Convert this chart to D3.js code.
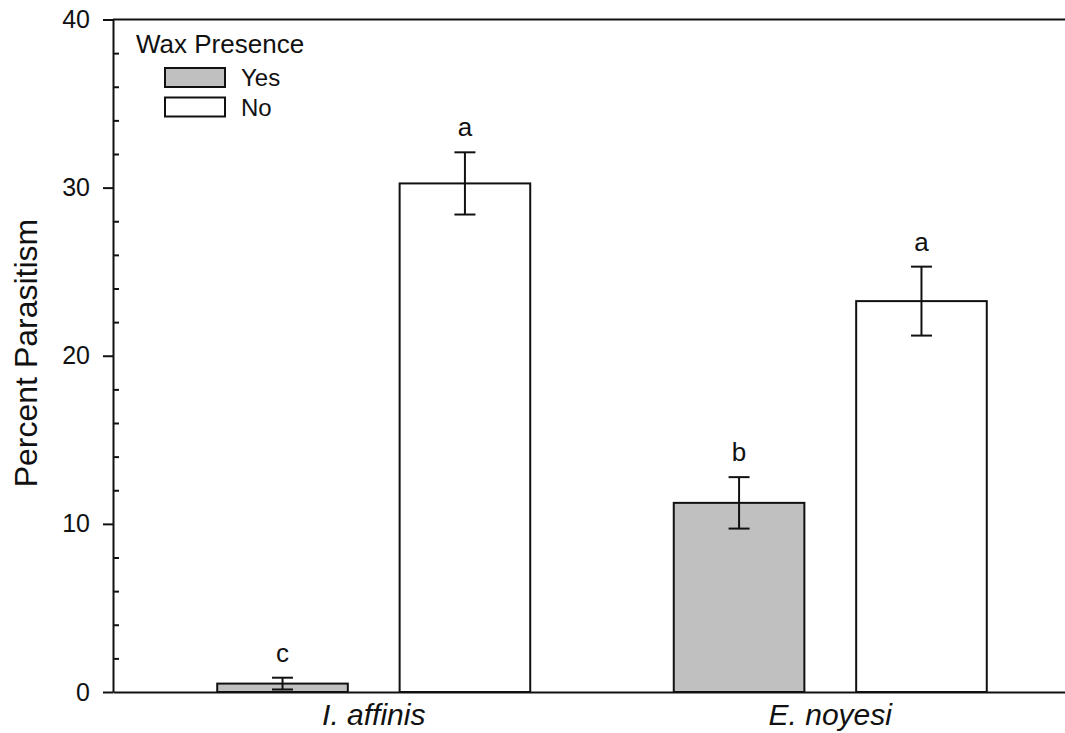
<!DOCTYPE html>
<html>
<head>
<meta charset="utf-8">
<script src="https://cdn.jsdelivr.net/npm/d3@7"></script>
<style>
  html, body { margin: 0; padding: 0; background: #fff; }
  svg { display: block; font-family: Arial, "Liberation Sans", sans-serif; }
</style>
</head>
<body>
<svg id="chart" width="1065" height="733"></svg>
<script>
// ---- data ----
const groups = ["I. affinis", "E. noyesi"];
const waxLevels = ["Yes", "No"];
const yesMeans = [0.5, 11.25];
const yesErrors = [0.35, 1.53];
const yesLetters = ["c", "b"];
const noMeans = [30.25, 23.25];
const noErrors = [1.85, 2.05];
const noLetters = ["a", "a"];
const majorTicks = [0, 10, 20, 30, 40];
const minorTicks = [2, 4, 6, 8, 12, 14, 16, 18, 22, 24, 26, 28, 32, 34, 36, 38];
const legendTitle = "Wax Presence";
const yTitle = "Percent Parasitism";

const fills = { Yes: "#c0c0c0", No: "#ffffff" };

const rows = [];
groups.forEach((g, i) => {
  rows.push({ group: g, wax: "Yes", mean: yesMeans[i], err: yesErrors[i], letter: yesLetters[i] });
  rows.push({ group: g, wax: "No", mean: noMeans[i], err: noErrors[i], letter: noLetters[i] });
});

// ---- layout ----
const plotLeft = 113, plotRight = 1090, plotTop = 19.5, plotBottom = 692;
const svg = d3.select("#chart");

const x = d3.scalePoint().domain(groups).range([plotLeft, plotRight]).padding(0.57);
const xSub = d3.scaleBand().domain(waxLevels).range([-156, 157]).paddingInner(0.284).paddingOuter(0);
const y = d3.scaleLinear().domain([0, 40]).range([plotBottom, plotTop]);

const ink = "#111";

// bars
const bars = svg.append("g");
bars.selectAll("rect").data(rows).join("rect")
  .attr("x", d => x(d.group) + xSub(d.wax))
  .attr("width", xSub.bandwidth())
  .attr("y", d => y(d.mean))
  .attr("height", d => y(0) - y(d.mean))
  .attr("fill", d => fills[d.wax])
  .attr("stroke", ink)
  .attr("stroke-width", 2);

// error bars
const eb = svg.append("g").attr("stroke", ink).attr("stroke-width", 2);
rows.forEach(d => {
  const cx = x(d.group) + xSub(d.wax) + xSub.bandwidth() / 2;
  const lo = Math.max(0, d.mean - d.err), hi = d.mean + d.err;
  eb.append("line").attr("x1", cx).attr("x2", cx).attr("y1", y(lo)).attr("y2", y(hi));
  eb.append("line").attr("x1", cx - 10.5).attr("x2", cx + 10.5).attr("y1", y(hi)).attr("y2", y(hi));
  eb.append("line").attr("x1", cx - 10.5).attr("x2", cx + 10.5).attr("y1", y(lo)).attr("y2", y(lo));
});

// significance letters
svg.append("g").selectAll("text").data(rows).join("text")
  .attr("x", d => x(d.group) + xSub(d.wax) + xSub.bandwidth() / 2)
  .attr("y", d => y(d.mean + d.err) - 16)
  .attr("text-anchor", "middle")
  .attr("font-size", 26)
  .attr("fill", ink)
  .text(d => d.letter);

// y axis (major ticks outward)
const yAxis = d3.axisLeft(y).tickValues(majorTicks).tickSize(10).tickPadding(13).tickSizeOuter(0);
const gy = svg.append("g").attr("transform", `translate(${plotLeft},0)`).call(yAxis);
gy.select(".domain").attr("stroke", ink).attr("stroke-width", 2);
gy.selectAll(".tick line").attr("stroke", ink).attr("stroke-width", 2);
gy.selectAll(".tick text").attr("font-size", 25).attr("fill", ink)
  .attr("font-family", "Arial, 'Liberation Sans', sans-serif");

// minor ticks (inward)
const yMinor = d3.axisRight(y).tickValues(minorTicks).tickSize(6).tickFormat("");
const gm = svg.append("g").attr("transform", `translate(${plotLeft},0)`).call(yMinor);
gm.select(".domain").remove();
gm.selectAll(".tick line").attr("stroke", ink).attr("stroke-width", 2);

// top and bottom frame lines
svg.append("line").attr("x1", plotLeft).attr("x2", plotRight).attr("y1", y(40)).attr("y2", y(40))
  .attr("stroke", ink).attr("stroke-width", 2);
const xAxis = d3.axisBottom(x).tickSize(0).tickPadding(12);
const gx = svg.append("g").attr("transform", `translate(0,${plotBottom})`).call(xAxis);
gx.select(".domain").attr("stroke", ink).attr("stroke-width", 2);
gx.selectAll(".tick text").attr("font-size", 30).attr("font-style", "italic").attr("fill", ink)
  .attr("font-family", "Arial, 'Liberation Sans', sans-serif")
  .attr("dy", "0.71em");

// y title
svg.append("text")
  .attr("transform", `translate(37,353) rotate(-90)`)
  .attr("text-anchor", "middle")
  .attr("font-size", 32)
  .attr("fill", ink)
  .text(yTitle);

// legend
const lg = svg.append("g");
lg.append("text").attr("x", 136).attr("y", 52.5).attr("font-size", 26).attr("fill", ink).text(legendTitle);
waxLevels.forEach((w, i) => {
  const yy = 68 + i * 29.5;
  lg.append("rect").attr("x", 165).attr("y", yy).attr("width", 60).attr("height", 19)
    .attr("fill", fills[w]).attr("stroke", ink).attr("stroke-width", 2);
  lg.append("text").attr("x", 241).attr("y", yy + 18).attr("font-size", 24).attr("fill", ink).text(w);
});
</script>
</body>
</html>
